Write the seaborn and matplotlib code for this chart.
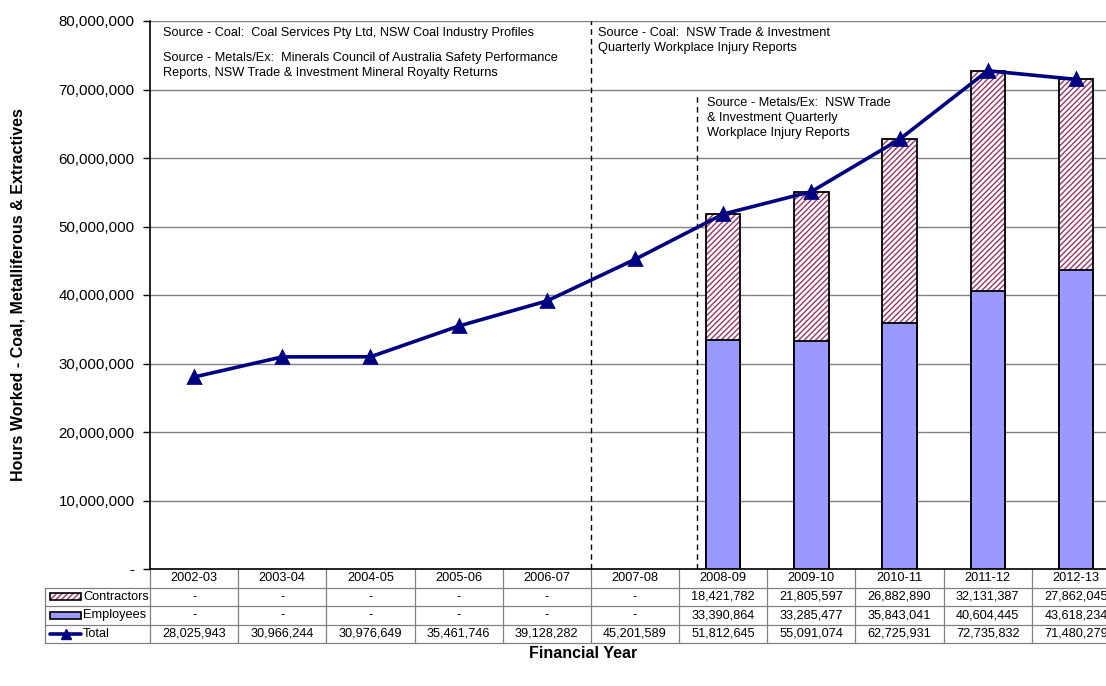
import numpy as np
import pandas as pd
import matplotlib
matplotlib.use("Agg")
import matplotlib.pyplot as plt
from matplotlib.lines import Line2D
from matplotlib.patches import Rectangle
from matplotlib.ticker import FuncFormatter, MultipleLocator
import seaborn as sns

# Hours worked by financial year (NSW coal, metalliferous & extractives)
years = ["2002-03", "2003-04", "2004-05", "2005-06", "2006-07", "2007-08",
         "2008-09", "2009-10", "2010-11", "2011-12", "2012-13"]
contractors = [np.nan] * 6 + [18421782, 21805597, 26882890, 32131387, 27862045]
employees = [np.nan] * 6 + [33390864, 33285477, 35843041, 40604445, 43618234]
total = [28025943, 30966244, 30976649, 35461746, 39128282, 45201589,
         51812645, 55091074, 62725931, 72735832, 71480279]

series_names = ["Contractors", "Employees", "Total"]

EMP_COLOR = "#9999FF"
HATCH_COLOR = "#993366"
LINE_COLOR = "#000080"
GRID_COLOR = "#808080"

sns.set_theme(style="white")
plt.rcParams["font.family"] = ["Liberation Sans", "DejaVu Sans"]
plt.rcParams["text.color"] = "black"
plt.rcParams["hatch.linewidth"] = 1.0
plt.rcParams["hatch.color"] = HATCH_COLOR

df = pd.DataFrame({
    "year": years,
    "contractors": contractors,
    "employees": employees,
    "total": total,
})
df["stack_top"] = df["employees"] + df["contractors"]

W, H = 1106, 686
fig = plt.figure(figsize=(W / 100, H / 100), dpi=100)
ax_left, ax_right, ax_top, ax_bottom = 150, 1120, 21, 569
ax = fig.add_axes([ax_left / W, (H - ax_bottom) / H,
                   (ax_right - ax_left) / W, (ax_bottom - ax_top) / H])
ax_w_px = ax_right - ax_left
ax_h_px = ax_bottom - ax_top

bar_w = 0.39

# Contractors stacked on top of employees: hatched full-height bar, then employees over it
sns.barplot(data=df, x="year", y="stack_top", order=years, ax=ax, width=bar_w,
            color="white", edgecolor=HATCH_COLOR, linewidth=0, hatch="//////",
            saturation=1, errorbar=None, zorder=2)
sns.barplot(data=df, x="year", y="stack_top", order=years, ax=ax, width=bar_w,
            fill=False, edgecolor="black", linewidth=1.3, errorbar=None, zorder=3)
sns.barplot(data=df, x="year", y="employees", order=years, ax=ax, width=bar_w,
            color=EMP_COLOR, edgecolor="black", linewidth=1.3, saturation=1,
            errorbar=None, zorder=3)

# Total line
sns.pointplot(data=df, x="year", y="total", order=years, ax=ax, color=LINE_COLOR,
              markers="^", linestyles="-", errorbar=None, linewidth=2.6,
              markersize=8.5, zorder=5)

ax.set_xlim(-0.5, len(years) - 0.5)
ax.set_ylim(0, 80_000_000)
ax.yaxis.set_major_locator(MultipleLocator(10_000_000))
ax.yaxis.set_major_formatter(FuncFormatter(lambda v, p: "-" if v == 0 else f"{v:,.0f}"))
ax.grid(axis="y", color=GRID_COLOR, linewidth=1.0, zorder=0)
ax.set_axisbelow(True)
for s in ["top", "right"]:
    ax.spines[s].set_visible(False)
for s in ["left", "bottom"]:
    ax.spines[s].set_color("black")
    ax.spines[s].set_linewidth(1.2)
ax.tick_params(axis="y", left=True, length=5, width=1, pad=6, labelsize=10.8,
               color="black", labelcolor="black")
ax.tick_params(axis="x", bottom=False, labelbottom=False)
ax.set_xlabel("")
ax.set_ylabel("")

# Source-period dividers
ax.vlines(4.5, 0, 80_000_000, colors="black", linestyles=(0, (4, 3)), linewidth=1, zorder=4)
ax.vlines(5.7, 0, 69_000_000, colors="black", linestyles=(0, (4, 3)), linewidth=1, zorder=4)

# Source notes
note_kw = dict(fontsize=9.2, color="black", va="top", ha="left", transform=fig.transFigure,
               linespacing=1.32)
fig.text(163 / W, 1 - 27 / H,
         "Source - Coal:  Coal Services Pty Ltd, NSW Coal Industry Profiles", **note_kw)
fig.text(163 / W, 1 - 52 / H,
         "Source - Metals/Ex:  Minerals Council of Australia Safety Performance\n"
         "Reports, NSW Trade & Investment Mineral Royalty Returns", **note_kw)
fig.text(598 / W, 1 - 27 / H,
         "Source - Coal:  NSW Trade & Investment\nQuarterly Workplace Injury Reports", **note_kw)
fig.text(707 / W, 1 - 97 / H,
         "Source - Metals/Ex:  NSW Trade\n& Investment Quarterly\nWorkplace Injury Reports",
         **note_kw)

# Data table beneath the axis
row_px = 18.5
label_col_px = 105
tkw = dict(transform=ax.transAxes, clip_on=False)
tgrid = dict(color=GRID_COLOR, linewidth=0.9, **tkw)


def ay(px_below):
    return -px_below / ax_h_px


def ax_x(px):
    return px / ax_w_px


n = len(years)
col_edges = [i / n for i in range(n + 1)]
# horizontal rules
for r in range(1, 5):
    y = ay(r * row_px)
    ax.add_line(Line2D([ax_x(-label_col_px), 1], [y, y], **tgrid))
# vertical rules
for xe in col_edges:
    ax.add_line(Line2D([xe, xe], [0, ay(4 * row_px)], **tgrid))
ax.add_line(Line2D([ax_x(-label_col_px)] * 2, [ay(row_px), ay(4 * row_px)], **tgrid))

fmt = lambda v: "-" if (v is None or np.isnan(v)) else f"{v:,.0f}"
rows = [
    [fmt(v) for v in contractors],
    [fmt(v) for v in employees],
    [fmt(v) for v in total],
]
cell_fs = 9.2
for i, yr in enumerate(years):
    xc = (i + 0.5) / n
    ax.text(xc, ay(0.5 * row_px), yr, ha="center", va="center", fontsize=cell_fs, **tkw)
    for r, row in enumerate(rows):
        ax.text(xc, ay((r + 1.5) * row_px), row[i], ha="center", va="center",
                fontsize=cell_fs, **tkw)

# row labels with legend keys
key_x0, key_x1 = ax_x(-100), ax_x(-69)
key_h = 7 / ax_h_px
for r, name in enumerate(series_names):
    yc = ay((r + 1.5) * row_px)
    ax.text(ax_x(-67), yc, name, ha="left", va="center", fontsize=cell_fs, **tkw)
    if name == "Contractors":
        ax.add_patch(Rectangle((key_x0, yc - key_h / 2), key_x1 - key_x0, key_h,
                               facecolor="white", edgecolor=HATCH_COLOR, hatch="//////",
                               linewidth=0, **tkw))
        ax.add_patch(Rectangle((key_x0, yc - key_h / 2), key_x1 - key_x0, key_h,
                               fill=False, edgecolor="black", linewidth=1.2, **tkw))
    elif name == "Employees":
        ax.add_patch(Rectangle((key_x0, yc - key_h / 2), key_x1 - key_x0, key_h,
                               facecolor=EMP_COLOR, edgecolor="black", linewidth=1.2, **tkw))
    else:
        ax.add_line(Line2D([key_x0, key_x1], [yc, yc], color=LINE_COLOR, linewidth=2.6, **tkw))
        ax.add_line(Line2D([(key_x0 + key_x1) / 2], [yc], color=LINE_COLOR, marker="^",
                           markersize=7, linestyle="none", **tkw))

# Axis titles
fig.text(18 / W, 1 - 295 / H, "Hours Worked - Coal, Metalliferous & Extractives",
         rotation=90, ha="center", va="center", fontsize=11.5, fontweight="bold")
fig.text(583 / W, 1 - 653 / H, "Financial Year", ha="center", va="center",
         fontsize=11.5, fontweight="bold")

fig.savefig("out.png", dpi=100, facecolor="white")
